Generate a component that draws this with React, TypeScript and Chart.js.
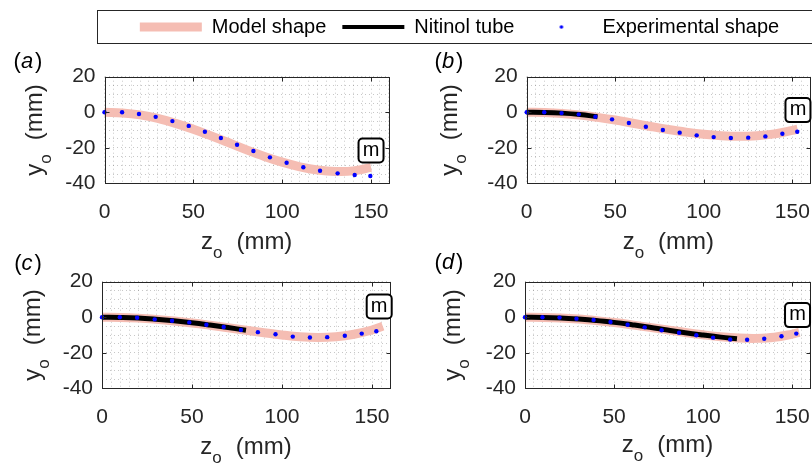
import React, { useEffect, useRef } from 'react';
import { Chart, registerables } from 'chart.js';

Chart.register(...registerables);

// ---------------- data ----------------
const xTickValues = [0, 50, 100, 150];
const yTickValues = [-40, -20, 0, 20];
const X_MIN = 0;
const X_MAX = 160;
const Y_MIN = -40;
const Y_MAX = 20;
const MINOR_STEP = 5;

const legendLabels = ['Model shape', 'Nitinol tube', 'Experimental shape'];
const markerText = 'm';
const panelLetters = ['a', 'b', 'c', 'd'];

// (a)
const modelA_z = [0, 10, 20, 30, 40, 50, 60, 70, 80, 90, 100, 110, 120, 130, 140, 150];
const modelA_y = [0, -0.4, -1.5, -3.5, -6.3, -9.6, -13.3, -17.2, -21.2, -24.9, -28.1, -30.7, -32.5, -33.3, -33, -31];
const expA_z = [0, 9.9, 19.4, 28.8, 38.2, 47.4, 56.5, 65.5, 74.6, 83.8, 93.1, 102.5, 111.9, 121.3, 131.2, 140.8, 149.6];
const expA_y = [0, 0, -1, -2.6, -5, -7.7, -11, -14.5, -18.3, -21.8, -25.4, -28.4, -31, -32.9, -34.4, -35.3, -35.9];
const markA = [150, -21.5];

// (b)
const modelB_z = [0, 10, 20, 30, 40, 50, 60, 70, 80, 90, 100, 110, 120, 130, 140, 150, 153];
const modelB_y = [0, -0.2, -0.7, -1.6, -2.9, -4.4, -6.2, -8, -9.7, -11.2, -12.4, -13.2, -13.5, -13.2, -12.2, -10.2, -9.5];
const tubeB_z = [0, 10, 20, 30, 40];
const tubeB_y = [0, -0.1, -0.5, -1.3, -2.5];
const expB_z = [0, 9.9, 19.7, 29.4, 38.8, 48.2, 57.7, 67.3, 76.9, 86.4, 96, 105.6, 115.3, 125.1, 134.8, 144.4, 152.8];
const expB_y = [0, 0, -0.5, -1.2, -2.5, -4, -6.1, -8.2, -10, -11.5, -13, -14, -14.5, -14.3, -13.6, -12.1, -11];
const markB = [153.2, 1.2];

// (c)
const modelC_z = [0, 10, 20, 30, 40, 50, 60, 70, 80, 90, 100, 110, 120, 130, 140, 150, 156];
const modelC_y = [0, -0.1, -0.5, -1.2, -2.1, -3.2, -4.5, -5.9, -7.3, -8.7, -10, -11, -11.4, -11, -9.6, -7.2, -5];
const tubeC_z = [0, 10, 20, 30, 40, 50, 60, 70, 80];
const tubeC_y = [0, -0.1, -0.4, -1.1, -2, -3.1, -4.4, -5.8, -7.3];
const expC_z = [0, 9.9, 19.5, 29.3, 38.9, 48.5, 58, 67.6, 77.2, 86.6, 96.4, 106, 115.5, 125.1, 134.9, 144.3, 152.4];
const expC_y = [0, 0, -0.3, -1.2, -2, -2.9, -4.2, -5.5, -7.2, -8.4, -9.6, -10.9, -11.4, -11.2, -10.4, -9.2, -7.9];
const markC = [154, 6];

// (d)
const modelD_z = [0, 10, 20, 30, 40, 50, 60, 70, 80, 90, 100, 110, 120, 130, 140, 150, 154];
const modelD_y = [0, -0.1, -0.4, -1, -1.9, -3, -4.3, -5.7, -7.1, -8.6, -9.9, -11, -11.7, -11.9, -11.3, -9.5, -8.5];
const tubeD_z = [0, 10, 20, 30, 40, 50, 60, 70, 80, 90, 100, 110, 119];
const tubeD_y = [0, -0.1, -0.4, -1, -1.8, -2.9, -4.2, -5.6, -7.2, -8.7, -10, -11.2, -12.1];
const expD_z = [0, 9.8, 19.4, 28.9, 38.5, 48, 57.6, 67.2, 76.7, 86.5, 96.2, 105.6, 115.2, 124.7, 134.3, 144, 152.3];
const expD_y = [0, 0, -0.2, -0.8, -1.5, -2.7, -4.2, -5.7, -7.3, -8.7, -10.1, -11.5, -12.5, -12.7, -12.1, -10.7, -9.2];
const markD = [153, 1.2];

// ---------------- styles ----------------
const FONT = "'Liberation Sans', Arial, Helvetica, sans-serif";
const INK = '#262626';
const PINK = '#f5bdb3';
const BLUE = '#0000ff';
const BLACK = '#000000';
const TICK_SIZE = 21;
const TITLE_SIZE = 24;
const SUB_SIZE = 17;

type Panel = {
  letter: string;
  modelZ: number[]; modelY: number[];
  tubeZ: number[] | null; tubeY: number[] | null;
  expZ: number[]; expY: number[];
  mark: number[];
};

const PANELS: Panel[] = [
  { letter: panelLetters[0], modelZ: modelA_z, modelY: modelA_y, tubeZ: null, tubeY: null, expZ: expA_z, expY: expA_y, mark: markA },
  { letter: panelLetters[1], modelZ: modelB_z, modelY: modelB_y, tubeZ: tubeB_z, tubeY: tubeB_y, expZ: expB_z, expY: expB_y, mark: markB },
  { letter: panelLetters[2], modelZ: modelC_z, modelY: modelC_y, tubeZ: tubeC_z, tubeY: tubeC_y, expZ: expC_z, expY: expC_y, mark: markC },
  { letter: panelLetters[3], modelZ: modelD_z, modelY: modelD_y, tubeZ: tubeD_z, tubeY: tubeD_y, expZ: expD_z, expY: expD_y, mark: markD },
];

type Geom = {
  left: number; top: number; w: number; h: number;
  pl: number; pr: number; pt: number; pb: number;
  yTitleX: number; xTitleY: number; letterX: number; letterY: number;
};

const GEOMS: Geom[] = [
  { left: 0, top: 48, w: 406, h: 222, pl: 104.5, pr: 388.8, pt: 76.7, pb: 183.3, yTitleX: 35.5, xTitleY: 243, letterX: 28, letterY: 62 },
  { left: 406, top: 48, w: 420, h: 222, pl: 526.7, pr: 813, pt: 76.7, pb: 183.3, yTitleX: 451, xTitleY: 243, letterX: 449, letterY: 62 },
  { left: 0, top: 248, w: 406, h: 216, pl: 102, pr: 392.5, pt: 281.7, pb: 388.3, yTitleX: 33.5, xTitleY: 448, letterX: 28, letterY: 264 },
  { left: 406, top: 248, w: 420, h: 216, pl: 525, pr: 815, pt: 281.7, pb: 388.3, yTitleX: 453.5, xTitleY: 446, letterX: 449, letterY: 263 },
];

const toPts = (xs: number[], ys: number[]) => xs.map((x, i) => ({ x, y: ys[i] }));

function drawSubText(ctx: CanvasRenderingContext2D, main: string, sub: string, rest: string, cx: number, cy: number, angle: number) {
  ctx.save();
  ctx.translate(cx, cy);
  ctx.rotate(angle);
  ctx.fillStyle = INK;
  ctx.textAlign = 'left';
  ctx.textBaseline = 'alphabetic';
  ctx.font = `${TITLE_SIZE}px ${FONT}`;
  const w1 = ctx.measureText(main).width;
  const w3 = ctx.measureText(rest).width;
  ctx.font = `${SUB_SIZE}px ${FONT}`;
  const w2 = ctx.measureText(sub).width;
  const gap = 14;
  const total = w1 + w2 + gap + w3;
  let x = -total / 2;
  const base = 6.2;
  ctx.font = `${TITLE_SIZE}px ${FONT}`;
  ctx.fillText(main, x, base);
  x += w1;
  ctx.font = `${SUB_SIZE}px ${FONT}`;
  ctx.fillText(sub, x, base + 9);
  x += w2 + gap;
  ctx.font = `${TITLE_SIZE}px ${FONT}`;
  ctx.fillText(rest, x, base);
  ctx.restore();
}

function drawLetter(ctx: CanvasRenderingContext2D, letter: string, cx: number, cy: number) {
  ctx.save();
  ctx.fillStyle = BLACK;
  ctx.textBaseline = 'middle';
  ctx.textAlign = 'left';
  ctx.font = `22px ${FONT}`;
  const wp = ctx.measureText('(').width;
  const wq = ctx.measureText(')').width;
  ctx.font = `italic 22px ${FONT}`;
  const wl = ctx.measureText(letter).width;
  const total = wp + wl + wq + 2;
  let x = cx - total / 2;
  ctx.font = `22px ${FONT}`;
  ctx.fillText('(', x, cy);
  x += wp;
  ctx.font = `italic 22px ${FONT}`;
  ctx.fillText(letter, x, cy);
  x += wl + 2;
  ctx.font = `22px ${FONT}`;
  ctx.fillText(')', x, cy);
  ctx.restore();
}

function makeDecor(p: Panel, g: Geom) {
  return {
    id: 'decor',
    afterDraw(chart: any) {
      const ctx: CanvasRenderingContext2D = chart.ctx;
      const a = chart.chartArea;
      const xs = chart.scales.x;
      const ys = chart.scales.y;
      ctx.save();
      const l = Math.round(a.left) + 0.5;
      const t = Math.round(a.top) + 0.5;
      const r = Math.round(a.right) + 0.5;
      const b = Math.round(a.bottom) + 0.5;
      ctx.strokeStyle = INK;
      ctx.lineWidth = 1;
      ctx.strokeRect(l, t, r - l, b - t);
      const TL = 4;
      ctx.beginPath();
      for (const v of xTickValues) {
        const px = Math.round(xs.getPixelForValue(v)) + 0.5;
        ctx.moveTo(px, t); ctx.lineTo(px, t + TL);
        ctx.moveTo(px, b); ctx.lineTo(px, b - TL);
      }
      for (const v of yTickValues) {
        const py = Math.round(ys.getPixelForValue(v)) + 0.5;
        ctx.moveTo(l, py); ctx.lineTo(l + TL, py);
        ctx.moveTo(r, py); ctx.lineTo(r - TL, py);
      }
      ctx.stroke();
      const cxPlot = (a.left + a.right) / 2;
      const cyPlot = (a.top + a.bottom) / 2;
      drawSubText(ctx, 'z', 'o', '(mm)', cxPlot, g.xTitleY - g.top, 0);
      drawSubText(ctx, 'y', 'o', '(mm)', g.yTitleX - g.left, cyPlot, -Math.PI / 2);
      drawLetter(ctx, p.letter, g.letterX - g.left, g.letterY - g.top);
      const mx = xs.getPixelForValue(p.mark[0]);
      const my = ys.getPixelForValue(p.mark[1]);
      const bw = 25, bh = 24;
      ctx.beginPath();
      (ctx as any).roundRect(mx - bw / 2, my - bh / 2, bw, bh, 4);
      ctx.fillStyle = '#ffffff';
      ctx.fill();
      ctx.lineWidth = 2;
      ctx.strokeStyle = BLACK;
      ctx.stroke();
      ctx.fillStyle = BLACK;
      ctx.font = `20px ${FONT}`;
      ctx.textAlign = 'center';
      ctx.textBaseline = 'alphabetic';
      ctx.fillText(markerText, mx, my + 5.2);
      ctx.restore();
    },
  };
}

function PanelChart({ panel, geom }: { panel: Panel; geom: Geom }) {
  const ref = useRef<HTMLCanvasElement>(null);
  useEffect(() => {
    const canvas = ref.current;
    if (!canvas) return;
    const datasets: any[] = [
      {
        label: legendLabels[0],
        data: toPts(panel.modelZ, panel.modelY),
        showLine: true,
        borderColor: PINK,
        backgroundColor: PINK,
        borderWidth: 9,
        pointRadius: 0,
        tension: 0.4,
        borderCapStyle: 'butt',
        clip: false,
        order: 3,
      },
    ];
    if (panel.tubeZ && panel.tubeY) {
      datasets.push({
        label: legendLabels[1],
        data: toPts(panel.tubeZ, panel.tubeY),
        showLine: true,
        borderColor: BLACK,
        backgroundColor: BLACK,
        borderWidth: 5,
        pointRadius: 0,
        tension: 0.4,
        borderCapStyle: 'butt',
        clip: false,
        order: 2,
      });
    }
    datasets.push({
      label: legendLabels[2],
      data: toPts(panel.expZ, panel.expY),
      showLine: false,
      pointRadius: 2.2,
      pointBackgroundColor: BLUE,
      pointBorderWidth: 0,
      borderColor: BLUE,
      backgroundColor: BLUE,
      clip: false,
      order: 1,
    });

    const g = geom;
    const gridColor = 'rgba(0,0,0,0.22)';
    const chart = new Chart(canvas, {
      type: 'scatter',
      data: { datasets },
      options: {
        animation: false,
        responsive: false,
        maintainAspectRatio: false,
        events: [],
        layout: {
          padding: { left: 0, right: g.left + g.w - g.pr, top: g.pt - g.top, bottom: 0 },
        },
        plugins: { legend: { display: false }, tooltip: { enabled: false }, title: { display: false } },
        scales: {
          x: {
            type: 'linear',
            position: 'bottom',
            min: X_MIN,
            max: X_MAX,
            afterFit: (s: any) => { s.height = g.top + g.h - g.pb; },
            ticks: {
              stepSize: MINOR_STEP,
              autoSkip: false,
              maxRotation: 0,
              minRotation: 0,
              padding: 16,
              color: INK,
              font: { family: FONT, size: TICK_SIZE },
              callback: (v: any) => (xTickValues.includes(Number(v)) ? String(v) : ''),
            },
            grid: { color: gridColor, lineWidth: 1, drawTicks: false },
            border: { display: false, dash: [1, 3] },
          },
          y: {
            type: 'linear',
            position: 'left',
            min: Y_MIN,
            max: Y_MAX,
            afterFit: (s: any) => { s.width = g.pl - g.left; },
            ticks: {
              stepSize: MINOR_STEP,
              autoSkip: false,
              padding: 9,
              color: INK,
              font: { family: FONT, size: TICK_SIZE },
              callback: (v: any) => (yTickValues.includes(Number(v)) ? String(v) : ''),
            },
            grid: { color: gridColor, lineWidth: 1, drawTicks: false },
            border: { display: false, dash: [1, 3] },
          },
        },
      } as any,
      plugins: [makeDecor(panel, geom)],
    });
    return () => chart.destroy();
  }, [panel, geom]);
  return (
    <canvas
      ref={ref}
      width={geom.w}
      height={geom.h}
      style={{ position: 'absolute', left: geom.left, top: geom.top, width: geom.w, height: geom.h, display: 'block' }}
    />
  );
}

const legendFrame = {
  id: 'legendFrame',
  afterDraw(chart: any) {
    const ctx: CanvasRenderingContext2D = chart.ctx;
    ctx.save();
    ctx.strokeStyle = INK;
    ctx.lineWidth = 1;
    ctx.strokeRect(97.5, 10.5, 760, 33);
    ctx.restore();
  },
};

function LegendChart() {
  const ref = useRef<HTMLCanvasElement>(null);
  useEffect(() => {
    const canvas = ref.current;
    if (!canvas) return;
    const dot = document.createElement('canvas');
    dot.width = 6;
    dot.height = 6;
    const dctx = dot.getContext('2d');
    if (dctx) {
      dctx.fillStyle = BLUE;
      dctx.beginPath();
      dctx.arc(3, 3, 1.8, 0, Math.PI * 2);
      dctx.fill();
    }
    const styles: any[] = [
      { stroke: PINK, fill: PINK, width: 9, pointStyle: 'line' },
      { stroke: BLACK, fill: BLACK, width: 4, pointStyle: 'line' },
      { stroke: BLUE, fill: BLUE, width: 0, pointStyle: dot },
    ];
    const chart = new Chart(canvas, {
      type: 'scatter',
      data: {
        datasets: legendLabels.map((label, i) => ({
          label,
          data: [],
          borderColor: styles[i].stroke,
          backgroundColor: styles[i].fill,
          borderWidth: styles[i].width,
        })),
      },
      options: {
        animation: false,
        responsive: false,
        events: [],
        layout: { padding: { left: 107, top: 1, right: 0, bottom: 0 } },
        scales: { x: { display: false }, y: { display: false } },
        plugins: {
          tooltip: { enabled: false },
          legend: {
            display: true,
            position: 'top',
            align: 'center',
            labels: {
              usePointStyle: true,
              pointStyleWidth: 62,
              boxHeight: 3,
              padding: 16,
              color: BLACK,
              font: { family: FONT, size: 20 },
              generateLabels: (c: any) =>
                c.data.datasets.map((ds: any, i: number) => ({
                  text: ds.label,
                  fillStyle: styles[i].fill,
                  strokeStyle: styles[i].stroke,
                  lineWidth: styles[i].width,
                  pointStyle: styles[i].pointStyle,
                  lineCap: 'butt',
                  hidden: false,
                  datasetIndex: i,
                  fontColor: BLACK,
                })),
            },
          },
        },
      } as any,
      plugins: [legendFrame],
    });
    return () => chart.destroy();
  }, []);
  return (
    <canvas
      ref={ref}
      width={812}
      height={130}
      style={{ position: 'absolute', left: 0, top: 0, width: 812, height: 130, display: 'block' }}
    />
  );
}

export default function App() {
  return (
    <div style={{ position: 'fixed', left: 0, top: 0, width: 812, height: 464, overflow: 'hidden', background: '#ffffff' }}>
      <LegendChart />
      {PANELS.map((p, i) => (
        <PanelChart key={p.letter} panel={p} geom={GEOMS[i]} />
      ))}
    </div>
  );
}
